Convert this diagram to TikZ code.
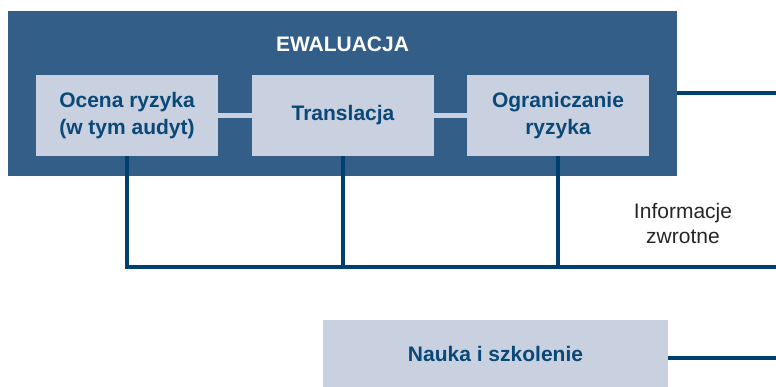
\documentclass[tikz,border=0pt]{standalone}
\usepackage{fontspec}
\setmainfont{Liberation Sans}
\usetikzlibrary{calc}
\definecolor{outerblue}{RGB}{51,94,136}
\definecolor{navy}{RGB}{0,64,112}
\definecolor{lightbox}{RGB}{201,208,223}
\definecolor{textblue}{RGB}{10,72,120}
\tikzset{
  x=1pt, y=1pt,
  inner/.style={fill=lightbox, minimum width=182pt, minimum height=81pt, inner sep=0pt,
    align=center, text=textblue, font=\fontsize{21}{27}\selectfont\bfseries},
  darkline/.style={draw=navy, line width=4.5pt},
  lightline/.style={draw=lightbox, line width=5.5pt}
}
\begin{document}
\begin{tikzpicture}
\useasboundingbox (0,0) rectangle (776,-387);
\node[fill=outerblue, minimum width=669pt, minimum height=165pt, inner sep=0pt] (outer) at (342.5,-93.5) {};
\node[text=white, font=\fontsize{21}{25}\selectfont\bfseries] (title) at (342.5,-44) {EWALUACJA};
\node[inner] (b1) at (127,-115.5) {Ocena ryzyka\\(w tym audyt)};
\node[inner] (b2) at (343,-115.5) {Translacja};
\node[inner] (b3) at (558,-115.5) {Ograniczanie\\ryzyka};
\draw[lightline] (b1.east) -- (b2.west);
\draw[lightline] (b2.east) -- (b3.west);
\coordinate (eR) at (776,-93);
\draw[darkline] (outer.east |- eR) -- (eR);
\coordinate (fR) at (776,-267);
\draw[darkline, line join=miter] (b1.south) |- (fR);
\draw[darkline] (b2.south) -- (b2.south |- fR);
\draw[darkline] (b3.south) -- (b3.south |- fR);
\node[align=center, text=black!85, font=\fontsize{21}{25}\selectfont] (info) at (683,-223) {Informacje\\zwrotne};
\node[fill=lightbox, minimum width=345pt, minimum height=67pt, inner sep=0pt, text=textblue, font=\fontsize{21}{25}\selectfont\bfseries] (nauka) at (495.5,-353.5) {Nauka i szkolenie};
\coordinate (nR) at (776,-358);
\draw[darkline] (nauka.east |- nR) -- (nR);
\end{tikzpicture}
\end{document}
